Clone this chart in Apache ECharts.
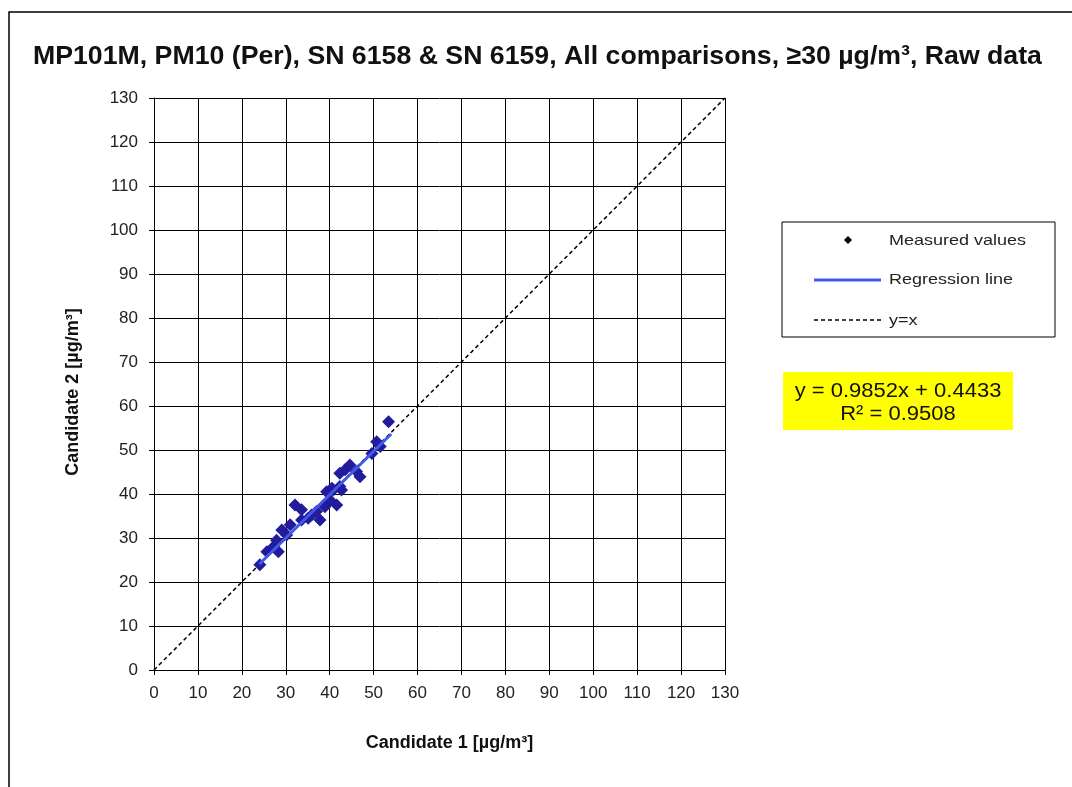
<!DOCTYPE html>
<html lang="en">
<head>
    <meta charset="UTF-8">
    <title>MP101M PM10 comparison</title>
    <script src="https://cdn.jsdelivr.net/npm/echarts@6/dist/echarts.min.js"></script>
</head>
<style>
    html,body{
        padding: 0;
        margin: 0;
        background: #fff;
    }
</style>
<body>
<div id="chart" style="width: 1072px;height:787px;"></div>
</body>
<script type="text/javascript">
    // measured pairs
    var candidate1 = [24.1, 25.7, 27.2, 28.3, 27.9, 29.1, 30.2, 31.0, 32.1, 33.6, 33.6, 35.1, 35.9, 37.0, 37.8,
        38.9, 40.1, 41.6, 40.8, 42.3, 39.3, 40.5, 42.7, 42.3, 43.5, 44.6, 46.1, 46.9, 49.6, 50.7, 51.5, 53.4];
    var candidate2 = [23.9, 26.9, 28.0, 26.9, 29.5, 31.8, 30.7, 33.0, 37.5, 36.4, 34.1, 34.5, 35.2, 36.0, 34.1,
        37.1, 38.6, 37.5, 40.9, 41.7, 40.5, 41.3, 40.9, 44.7, 45.5, 46.6, 45.1, 43.9, 49.2, 51.9, 50.8, 56.4];
    // regression line y = 0.9852x + 0.4433 over the data range
    var regX = [24.0, 54.0];
    var regY = [24.09, 53.64];
    var diagX = [0, 130];
    var diagY = [0, 130];
    var axisMin = 0, axisMax = 130, axisStep = 10;

    var zip = function (a, b) {
        return a.map(function (v, i) { return [v, b[i]]; });
    };

    var chart = echarts.init(document.getElementById('chart'));
    var font = 'Liberation Sans, Arial, sans-serif';

    function axis(name, isY) {
        return {
            type: 'value',
            min: axisMin,
            max: axisMax,
            interval: axisStep,
            name: name,
            nameLocation: 'middle',
            nameGap: isY ? 72 : 64,
            nameTextStyle: {fontFamily: font, fontSize: 18, fontWeight: 'bold', color: '#111',
                padding: isY ? [0, 16, 0, 0] : [0, 0, 0, 20]},
            axisLine: {show: true, lineStyle: {color: '#000', width: 1}},
            axisTick: {show: true, length: 5, lineStyle: {color: '#000'}},
            axisLabel: {fontFamily: font, fontSize: 17, color: '#222', margin: isY ? 16 : 15},
            splitLine: {show: true, lineStyle: {color: '#000', width: 1}}
        };
    }

    var option = {
        animation: false,
        title: {
            text: 'MP101M, PM10 (Per), SN 6158 & SN 6159, All comparisons, \u226530 \u00b5g/m\u00b3, Raw data',
            left: 33,
            top: 43,
            padding: 0,
            textStyle: {fontFamily: font, fontSize: 26.7, fontWeight: 'bold', color: '#111'}
        },
        grid: {left: 154, top: 98, width: 571, height: 572},
        xAxis: axis('Candidate 1 [\u00b5g/m\u00b3]', false),
        yAxis: axis('Candidate 2 [\u00b5g/m\u00b3]', true),
        series: [
            {
                name: 'y=x',
                type: 'line',
                data: zip(diagX, diagY),
                symbol: 'none',
                lineStyle: {color: '#000', width: 1.5, type: [4, 3]},
                z: 2
            },
            {
                name: 'Measured values',
                type: 'scatter',
                data: zip(candidate1, candidate2),
                symbol: 'diamond',
                symbolSize: 13,
                itemStyle: {color: '#221c9c', opacity: 1},
                z: 3
            },
            {
                name: 'Regression line',
                type: 'line',
                data: zip(regX, regY),
                symbol: 'none',
                lineStyle: {color: '#3f5ae8', width: 3},
                z: 4
            }
        ],
        graphic: [
            // outer frame
            {type: 'rect', shape: {x: 9, y: 12, width: 1100, height: 800},
                style: {fill: 'none', stroke: '#000', lineWidth: 1.5}, silent: true},
            // legend box
            {type: 'rect', shape: {x: 782, y: 222, width: 273, height: 115},
                style: {fill: '#fff', stroke: '#000', lineWidth: 1}},
            {type: 'polygon', shape: {points: [[848, 236], [852, 240], [848, 244], [844, 240]]}, style: {fill: '#000'}},
            {type: 'text', x: 889, y: 241, scaleX: 1.2, style: {text: 'Measured values', font: '15px ' + font, fill: '#222', textVerticalAlign: 'middle'}},
            {type: 'line', shape: {x1: 814, y1: 280, x2: 881, y2: 280}, style: {stroke: '#3f5ae8', lineWidth: 3}},
            {type: 'text', x: 889, y: 280, scaleX: 1.2, style: {text: 'Regression line', font: '15px ' + font, fill: '#222', textVerticalAlign: 'middle'}},
            {type: 'line', shape: {x1: 814, y1: 320, x2: 881, y2: 320}, style: {stroke: '#000', lineWidth: 1.5, lineDash: [4, 3]}},
            {type: 'text', x: 889, y: 321, scaleX: 1.2, style: {text: 'y=x', font: '15px ' + font, fill: '#222', textVerticalAlign: 'middle'}},
            // equation box
            {type: 'rect', shape: {x: 783, y: 372, width: 230, height: 58}, style: {fill: '#ffff00'}},
            {type: 'text', x: 898, y: 380, scaleX: 1.1, style: {text: 'y = 0.9852x + 0.4433\nR\u00b2 = 0.9508',
                    font: '20px ' + font, fill: '#111', textAlign: 'center', lineHeight: 23}}
        ]
    };
    chart.setOption(option);
</script>
</html>
